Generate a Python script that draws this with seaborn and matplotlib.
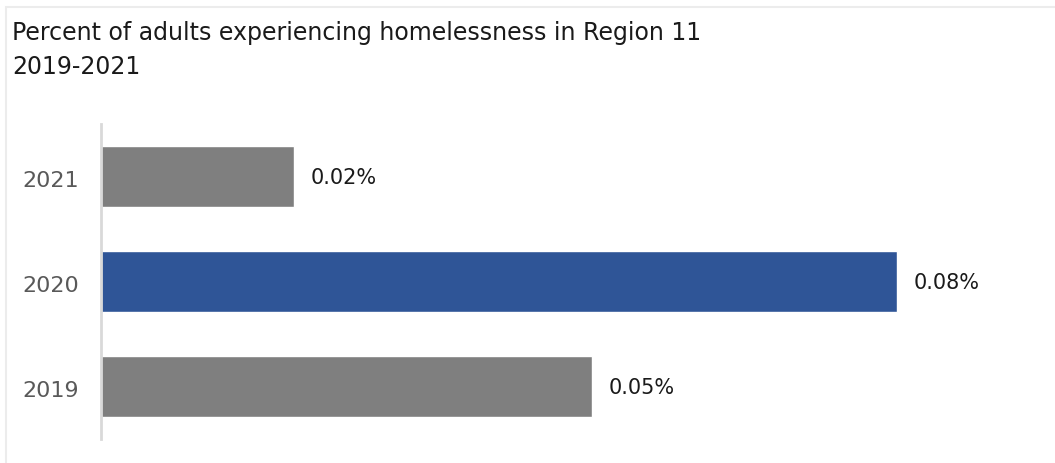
import matplotlib
matplotlib.use("Agg")
import matplotlib.pyplot as plt
import matplotlib.transforms as mtransforms
import seaborn as sns
import pandas as pd

# Data
years = ["2021", "2020", "2019"]
pct_values = [0.0196, 0.081, 0.050]
bar_colors = ["#7f7f7f", "#2f5597", "#7f7f7f"]
value_labels = ["0.02%", "0.08%", "0.05%"]

title_line1 = "Percent of adults experiencing homelessness in Region 11"
title_line2 = "2019-2021"

sns.set_theme(style="white")
plt.rcParams["font.family"] = ["DejaVu Sans"]

W, H = 1055, 464
fig = plt.figure(figsize=(W / 100, H / 100), dpi=100)
fig.patch.set_facecolor("white")

# light outer frame
frame = plt.Rectangle((6 / W, -0.01), 1.1, (H - 8) / H + 0.01, transform=fig.transFigure,
                      fill=False, edgecolor="#ececec", linewidth=1.5)
fig.add_artist(frame)

left, right = 101, 1000
top, bottom = 125, 440
ax = fig.add_axes([left / W, (H - bottom) / H, (right - left) / W, (bottom - top) / H])

df = pd.DataFrame({"year": years, "pct": pct_values})
sns.barplot(data=df, y="year", x="pct", hue="year", palette=bar_colors,
            order=years, hue_order=years, width=0.59, legend=False,
            saturation=1, ax=ax)

ax.set_xlim(0, 0.0915)
ax.set_ylim(2.5, -0.5)
ax.set_xlabel("")
ax.set_ylabel("")
ax.set_xticks([])
for s in ["top", "right", "bottom"]:
    ax.spines[s].set_visible(False)
ax.spines["left"].set_color("#d9d9d9")
ax.spines["left"].set_linewidth(2)
ax.tick_params(axis="y", length=0, pad=16, labelsize=16, labelcolor="#595959")
shift = mtransforms.ScaledTranslation(0, -2.5 / 72, fig.dpi_scale_trans)
for t in ax.get_yticklabels():
    t.set_va("center")
    t.set_transform(t.get_transform() + shift)
ax.set_facecolor("none")

for i, (v, lab) in enumerate(zip(pct_values, value_labels)):
    ax.annotate(lab, xy=(v, i), xytext=(12, -0.5), textcoords="offset points",
                ha="left", va="center", fontsize=15, color="#1a1a1a")

fig.text(12 / W, 1 - 33 / H, title_line1, fontsize=17, color="#1a1a1a", va="center", ha="left")
fig.text(12 / W, 1 - 67 / H, title_line2, fontsize=17, color="#1a1a1a", va="center", ha="left")

fig.savefig("out.png", dpi=100, facecolor="white")
